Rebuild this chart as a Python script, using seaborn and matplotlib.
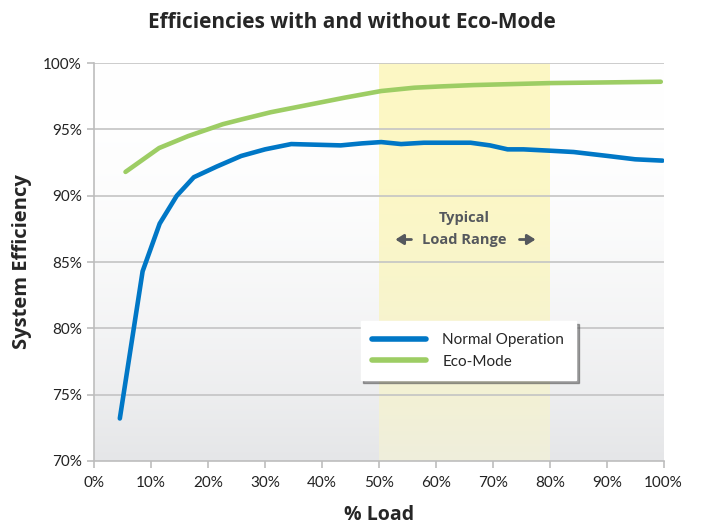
import numpy as np
import pandas as pd
import matplotlib.pyplot as plt
from matplotlib.colors import to_rgb
import seaborn as sns

# 데이터
normal_load = [4.5, 8.5, 11.5, 14.5, 17.5, 21.5, 25.8, 30.0, 34.6, 39.0, 43.3, 47.0, 50.4,
               53.9, 57.9, 62.0, 66.1, 69.5, 72.6, 75.4, 80.0, 84.2, 90.2, 95.0, 99.8]
normal_eff = [73.2, 84.3, 87.9, 90.0, 91.4, 92.2, 93.0, 93.5, 93.9, 93.85, 93.8, 93.95, 94.05,
              93.9, 94.0, 94.0, 94.0, 93.8, 93.5, 93.5, 93.4, 93.3, 93.0, 92.75, 92.65]
eco_load = [5.5, 11.4, 16.5, 22.6, 25.8, 31.0, 37.5, 44.0, 50.4, 56.2, 61.0, 66.7, 73.0, 80.2,
            90.0, 99.5]
eco_eff = [91.8, 93.6, 94.5, 95.4, 95.75, 96.3, 96.85, 97.4, 97.9, 98.15, 98.25, 98.35, 98.42,
           98.5, 98.55, 98.6]

x_ticks = list(range(0, 101, 10))
y_ticks = list(range(70, 101, 5))
band_start, band_end = 50, 80

df = pd.concat([
    pd.DataFrame({'load': normal_load, 'eff': normal_eff, 'mode': 'Normal Operation'}),
    pd.DataFrame({'load': eco_load, 'eff': eco_eff, 'mode': 'Eco-Mode'}),
])

sns.set_theme(style='white')
plt.rcParams['font.family'] = ['Lato', 'DejaVu Sans']

fig = plt.figure(figsize=(7.03, 5.31), dpi=100)
ax = fig.add_axes([0.134, 0.132, 0.81, 0.749])

# 배경 그라데이션
t = np.linspace(0, 1, 256)[:, None] ** 2
top, bot = np.array(to_rgb('#ffffff')), np.array(to_rgb('#e5e6e8'))
bg = top * (1 - t[..., None]) + bot * t[..., None]
ax.imshow(bg, extent=[0, 100, 70, 100], aspect='auto', origin='upper', zorder=0)

# 노란 부하 범위
ytop, ybot = np.array(to_rgb('#fdf8c4')), np.array(to_rgb('#efeedc'))
band = ytop * (1 - t[..., None]) + ybot * t[..., None]
ax.imshow(band, extent=[band_start, band_end, 70, 100], aspect='auto', origin='upper', zorder=0.5)

for yv in y_ticks[1:]:
    ax.axhline(yv, color='#c4c4c4', lw=1.2, zorder=1)

sns.lineplot(data=df, x='load', y='eff', hue='mode',
             palette={'Normal Operation': '#0077c6', 'Eco-Mode': '#9dcd64'},
             lw=3.3, ax=ax, zorder=3, legend=True)
for line in ax.lines:
    line.set_solid_capstyle('round')

ax.set_xlim(0, 100)
ax.set_ylim(70, 100)
ax.set_xticks(x_ticks)
ax.set_xticklabels([f'{v}%' for v in x_ticks])
ax.set_yticks(y_ticks)
ax.set_yticklabels([f'{v}%' for v in y_ticks])
ax.tick_params(axis='both', labelsize=11, colors='#bdbdbd', labelcolor='#222222',
               length=5, width=1.2, direction='out', bottom=True, left=True)
ax.tick_params(axis='x', pad=6)
ax.tick_params(axis='y', pad=4)
for s in ['top', 'right']:
    ax.spines[s].set_visible(False)
for s in ['left', 'bottom']:
    ax.spines[s].set_color('#bdbdbd')
    ax.spines[s].set_linewidth(1.2)

cond = ['Liberation Sans Narrow', 'Open Sans', 'DejaVu Sans']
ax.set_xlabel('% Load', fontsize=14, fontweight='bold', family=cond, labelpad=11)
ax.set_ylabel('System Efficiency', fontsize=14.5, fontweight='bold', family=cond, labelpad=8)
fig.text(0.5, 0.957, 'Efficiencies with and without Eco-Mode', ha='center', va='center',
         fontsize=15, fontweight='bold', family=cond)

# 주석
ax.text(65, 88.35, 'Typical', ha='center', va='center', fontsize=10.5, fontweight='bold',
        color='#55585d', family=cond)
ax.text(65, 86.7, 'Load Range', ha='center', va='center', fontsize=10.5, fontweight='bold',
        color='#55585d', family=cond)
arrow = dict(arrowstyle='-|>,head_length=0.4,head_width=0.25', color='#55585d', lw=2)
ax.annotate('', xy=(52.4, 86.7), xytext=(56.2, 86.7), arrowprops=arrow)
ax.annotate('', xy=(78.0, 86.7), xytext=(74.2, 86.7), arrowprops=arrow)

leg = ax.legend(loc='lower left', bbox_to_anchor=(0.468, 0.2035), frameon=True, shadow=True,
                fancybox=False, fontsize=11, handlelength=3.5, handletextpad=1.1,
                borderpad=0.75, labelspacing=0.5, borderaxespad=0)
leg.get_frame().set_edgecolor('#ffffff')
leg.get_frame().set_facecolor('#ffffff')
leg.get_frame().set_alpha(1)
leg.set_zorder(5)
for h in leg.get_lines():
    h.set_linewidth(4)

fig.savefig('out.png', dpi=100)
